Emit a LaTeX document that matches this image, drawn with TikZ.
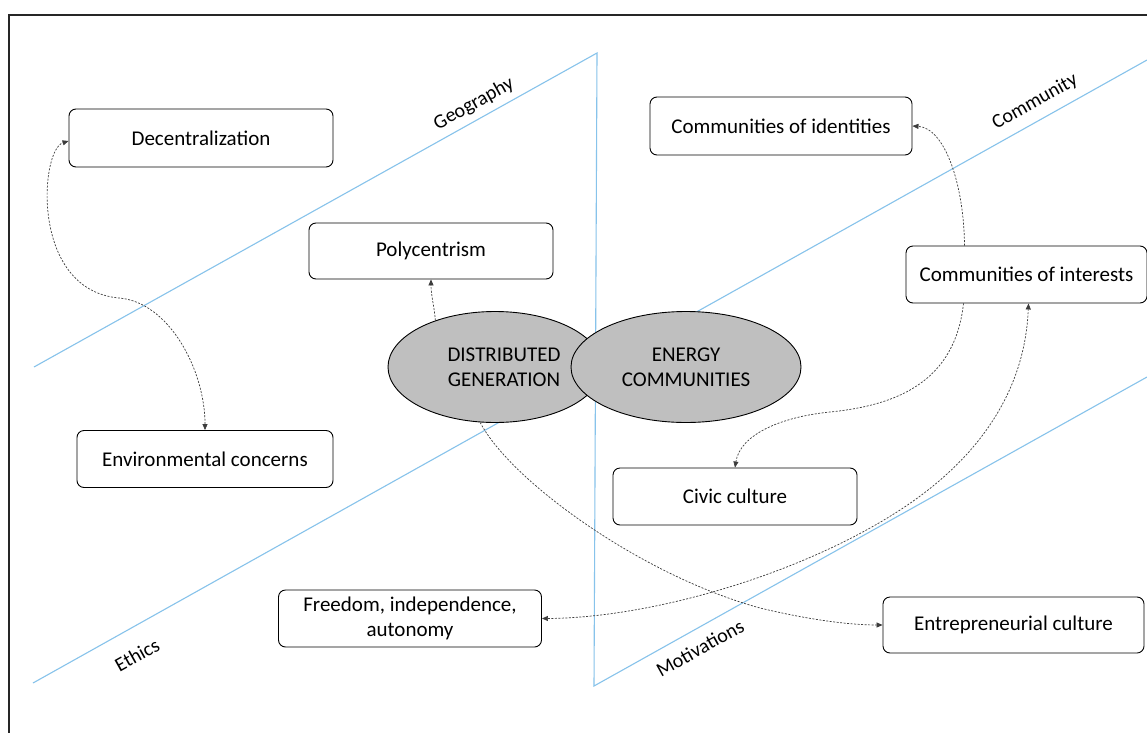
\documentclass[tikz,border=0pt]{standalone}
\usepackage{fontspec}
\setmainfont{Carlito}
\usetikzlibrary{arrows.meta,shapes.geometric,calc}
\definecolor{axisblue}{RGB}{135,195,235}
\definecolor{ellgray}{RGB}{191,191,191}
\definecolor{linkgray}{RGB}{60,60,60}
\tikzset{
 box/.style={draw=black, line width=0.9pt, rounded corners=7pt, fill=white, minimum height=57pt, inner sep=0pt, align=center, font=\fontsize{21}{25}\selectfont},
 hub/.style={ellipse, draw=black, line width=0.9pt, fill=ellgray, inner sep=0pt},
 hubtext/.style={align=center, font=\fontsize{21}{25}\selectfont, inner sep=0pt},
 axis/.style={draw=axisblue, line width=1.1pt},
 axislabel/.style={font=\fontsize{20}{24}\selectfont, rotate=29.2, inner sep=0pt},
 link/.style={draw=linkgray, line width=0.7pt, dash pattern=on 2pt off 1.5pt},
 arrowone/.style={-{Triangle[length=6pt,width=5pt]}},
 arrowtwo/.style={{Triangle[length=6pt,width=5pt]}-{Triangle[length=6pt,width=5pt]}},
}
\begin{document}
\begin{tikzpicture}[x=1pt,y=-1pt]
\useasboundingbox (0,0) rectangle (1147,733);
\fill[white] (0,0) rectangle (1147,733);
\draw[line width=1.6pt, black!85] (1147,15) -- (9,15) -- (9,733);

% axes
\coordinate (g0) at (34,367);
\coordinate (apex) at (597,53);
\coordinate (base) at (594,686);
\coordinate (m1) at (1147,377);
\coordinate (e0) at (33,683);
\coordinate (c1) at (1147,60);
\draw[axis] (g0) -- (apex) -- (base) -- (m1);
\draw[axis] (e0) -- (c1);

\node[axislabel] (geo) at (474,104) {Geography};
\node[axislabel] (com) at (1035,102) {Community};
\node[axislabel] (eth) at (137,655) {Ethics};
\node[axislabel] (mot) at (700,648) {Motivations};

% hubs
\node[hub, minimum width=214pt, minimum height=111pt] (dg) at (495,367) {};
\node[hub, minimum width=230pt, minimum height=111pt] (ec) at (686,367) {};
\node[hubtext] (dgt) at (504,367) {DISTRIBUTED\\GENERATION};
\node[hubtext] (ect) at (686,367) {ENERGY\\COMMUNITIES};

% boxes
\node[box, minimum width=264pt, minimum height=58pt] (dec) at (201,138) {Decentralization};
\node[box, minimum width=244pt, minimum height=56pt] (poly) at (431,251) {Polycentrism};
\node[box, minimum width=262pt, minimum height=58pt] (ident) at (781,126) {Communities of identities};
\node[box, minimum width=241pt] (inter) at (1026.5,274.5) {Communities of interests};
\node[box, minimum width=256pt] (env) at (205,459) {Environmental concerns};
\node[box, minimum width=244pt] (civic) at (735,496.5) {Civic culture};
\node[box, minimum width=263pt] (free) at (410,618.5) {Freedom, independence,\\autonomy};
\node[box, minimum width=261pt, minimum height=56pt] (ent) at (1013.5,625) {Entrepreneurial culture};

% connectors
\draw[link, arrowtwo] (env.north) .. controls (205,370) and (169,302) .. (119,298) .. controls (30,290) and (40,150) .. ([yshift=-3pt]dec.west);
\draw[link, arrowone] (dg.142) .. controls (434,305) and (431,295) .. (poly.south);
\draw[link, arrowone] ([xshift=-62pt]inter.north) .. controls (964,185) and (945,128) .. (ident.east);
\draw[link, arrowone] ([xshift=-63pt]inter.south) .. controls (955,380) and (900,405) .. (830,412) .. controls (780,417) and (740,435) .. (civic.north);
\draw[link, arrowtwo] (free.east) .. controls (650,618) and (800,575) .. (900,510) .. controls (980,458) and (1025,390) .. ([xshift=2pt]inter.south);
\draw[link, arrowone] (dg.255) .. controls (510,480) and (640,575) .. (760,608) .. controls (810,620) and (850,625) .. (ent.west);
\end{tikzpicture}
\end{document}
